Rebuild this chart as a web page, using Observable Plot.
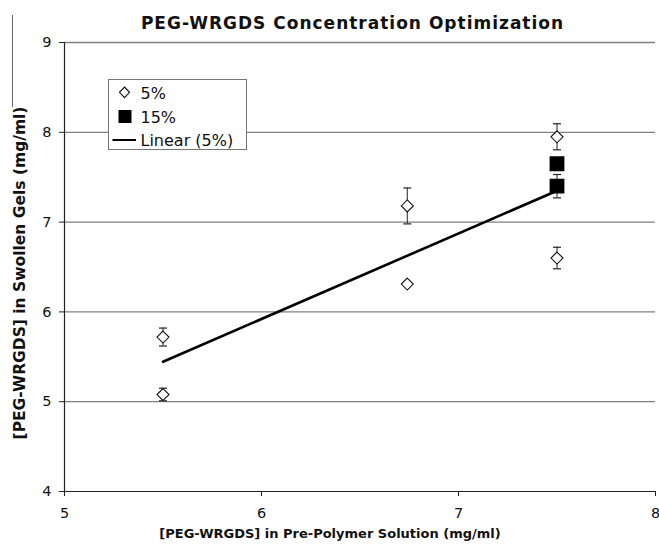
<!DOCTYPE html>
<html>
<head>
<meta charset="utf-8">
<script src="https://cdn.jsdelivr.net/npm/d3@7"></script>
<script src="https://cdn.jsdelivr.net/npm/@observablehq/plot@0.6"></script>
<style>
  body { margin: 0; background: #fff; font-family: "DejaVu Sans", Verdana, sans-serif; }
  #wrap { position: relative; width: 659px; height: 545px; overflow: hidden; }
  #title { position: absolute; left: 0; top: 0; height: 32px; width: 659px; text-align: center; font-weight: bold; font-size: 17px; letter-spacing: 1px; line-height: 46px; padding-left: 46px; box-sizing: border-box; color: #111; white-space: nowrap; }
  #chart { position: absolute; left: 0; top: 32px; }
  #legend { position: absolute; left: 108px; top: 79px; }
  #edge { position: absolute; left: 12px; top: 15px; width: 1px; height: 92px; background: #666; z-index: 5; }
</style>
</head>
<body>
<div id="wrap">
  <div id="title"></div>
  <div id="chart"></div>
  <div id="legend"></div>
  <div id="edge"></div>
</div>
<script>
const titleText = "PEG-WRGDS Concentration Optimization";
const xLabel = "[PEG-WRGDS] in Pre-Polymer Solution (mg/ml)";
const yLabel = "[PEG-WRGDS] in Swollen Gels (mg/ml)";
const seriesNames = ["5%", "15%", "Linear (5%)"];

// 5% series
const x5 = [5.5, 5.5, 6.74, 6.74, 7.5, 7.5];
const y5 = [5.72, 5.08, 7.18, 6.31, 7.95, 6.60];
const err5 = [0.10, 0.07, 0.20, 0, 0.145, 0.12];
// 15% series
const x15 = [7.5, 7.5];
const y15 = [7.65, 7.40];
const err15 = [0, 0.13];

const xTicks = [5, 6, 7, 8];
const yTicks = [4, 5, 6, 7, 8, 9];
const gridY = [5, 6, 7, 8, 9];

const d5 = x5.map((x, i) => ({x, y: y5[i], e: err5[i]}));
const d15 = x15.map((x, i) => ({x, y: y15[i], e: err15[i]}));
const errs = [...d5, ...d15].filter(d => d.e > 0);

const cap = { draw(ctx) { ctx.moveTo(-4, 0); ctx.lineTo(4, 0); } };

document.getElementById("title").textContent = titleText;

const plot = Plot.plot({
  width: 659,
  height: 513,
  marginTop: 10,
  marginLeft: 64,
  marginRight: 4,
  marginBottom: 54,
  style: { fontFamily: "DejaVu Sans, Verdana, sans-serif", color: "#111", background: "#fff" },
  x: { domain: [5, 8] },
  y: { domain: [4, 9] },
  marks: [
    Plot.ruleY(gridY, { stroke: "#808080", strokeWidth: 1.3 }),
    Plot.axisY({ ticks: yTicks, tickFormat: d => String(d), tickSize: 5, tickPadding: 8, fontSize: 14.5, label: null, stroke: "#222" }),
    Plot.axisX({ ticks: xTicks, tickFormat: d => String(d), tickSize: 5, tickPadding: 11, fontSize: 14.5, label: null, stroke: "#222" }),
    Plot.ruleX([5], { stroke: "#222", strokeWidth: 1.2 }),
    Plot.ruleY([4], { stroke: "#222", strokeWidth: 1.2 }),
    Plot.linearRegressionY(d5, { x: "x", y: "y", ci: 0, stroke: "#000", strokeWidth: 2.6 }),
    Plot.ruleX(errs, { x: "x", y1: d => d.y - d.e, y2: d => d.y + d.e, stroke: "#222", strokeWidth: 1 }),
    Plot.dot(errs, { x: "x", y: d => d.y - d.e, symbol: cap, stroke: "#222", strokeWidth: 1.2 }),
    Plot.dot(errs, { x: "x", y: d => d.y + d.e, symbol: cap, stroke: "#222", strokeWidth: 1.2 }),
    Plot.dot(d5, { x: "x", y: "y", symbol: "diamond2", r: 5.4, fill: "#fff", stroke: "#111", strokeWidth: 1.1 }),
    Plot.dot(d15, { x: "x", y: "y", symbol: "square", r: 7.5, fill: "#000", stroke: "#000" }),
    Plot.text([xLabel], { frameAnchor: "bottom", dy: 46, dx: -30, fontSize: 13, fontWeight: "bold", fill: "#111" }),
    Plot.text([yLabel], { frameAnchor: "left", textAnchor: "middle", rotate: -90, dx: -44, dy: 6, fontSize: 15.5, fontWeight: "bold", fill: "#111" })
  ]
});
document.getElementById("chart").appendChild(plot);

// Legend (drawn as a small SVG box)
const legendSvg = `
<svg width="139" height="71" style="display:block;font-family:'DejaVu Sans',Verdana,sans-serif" xmlns="http://www.w3.org/2000/svg">
  <rect x="0.5" y="0.5" width="138" height="70" fill="#fff" stroke="#777" stroke-width="1"/>
  <path d="M16.5 8 L21.5 13.3 L16.5 18.6 L11.5 13.3 Z" fill="#fff" stroke="#111" stroke-width="1.1"/>
  <text x="32.5" y="19.5" font-size="16" fill="#111">${seriesNames[0]}</text>
  <rect x="10.5" y="31" width="13" height="13" fill="#000"/>
  <text x="32.5" y="44" font-size="16" fill="#111">${seriesNames[1]}</text>
  <line x1="4.5" x2="28" y1="61" y2="61" stroke="#000" stroke-width="2"/>
  <text x="32.5" y="66.5" font-size="16" fill="#111">${seriesNames[2]}</text>
</svg>`;
document.getElementById("legend").innerHTML = legendSvg;
</script>
</body>
</html>
